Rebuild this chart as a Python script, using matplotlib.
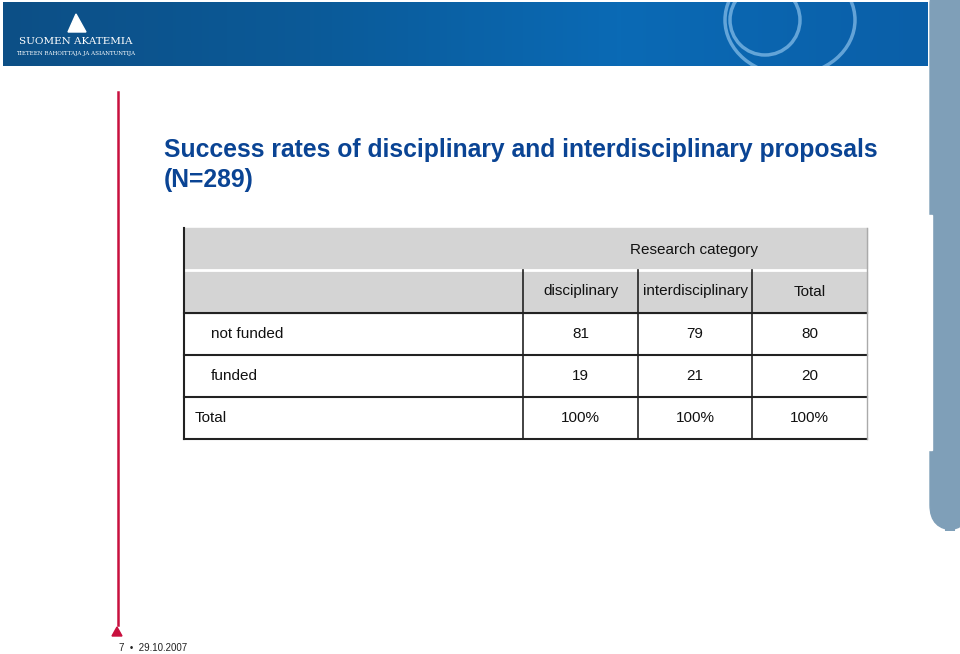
import matplotlib
matplotlib.use("Agg")
import matplotlib.pyplot as plt
from matplotlib.patches import Rectangle, FancyBboxPatch, Polygon, Ellipse
from matplotlib.colors import LinearSegmentedColormap
import numpy as np

title = "Success rates of disciplinary and interdisciplinary proposals\n(N=289)"
group_header = "Research category"
col_labels = ["disciplinary", "interdisciplinary", "Total"]
row_labels = ["not funded", "funded", "Total"]
values = [["81", "79", "80"], ["19", "21", "20"], ["100%", "100%", "100%"]]
footer = "7  •  29.10.2007"

fig = plt.figure(figsize=(9.6, 6.54), dpi=100)
ax = fig.add_axes([0, 0, 1, 1])
ax.set_xlim(0, 960); ax.set_ylim(654, 0); ax.axis("off")

grad = np.linspace(0, 1, 256)[None, :]
cm = LinearSegmentedColormap.from_list("b", ["#0d4f86", "#0b5a98", "#0a6ab5", "#0a5fa8"])
ax.imshow(grad, extent=(3, 928, 66, 2), cmap=cm, aspect="auto", zorder=1)
banner = Rectangle((3, 2), 925, 64, transform=ax.transData, fill=False, lw=0)
ax.add_patch(banner)
for cx, w, h in [(765, 70, 70), (790, 130, 110)]:
    e = Ellipse((cx, 20), w, h, fill=False, ec="#9fd0f5", lw=2.5, alpha=0.6, zorder=2)
    ax.add_patch(e); e.set_clip_path(banner)
ax.add_patch(Polygon([(76, 14), (68, 32), (86, 32)], color="white", zorder=3))
ax.text(76, 42, "SUOMEN AKATEMIA", color="white", ha="center", va="center", fontsize=7.5, family="DejaVu Serif", zorder=3)
ax.text(76, 54, "TIETEEN RAHOITTAJA JA ASIANTUNTIJA", color="white", ha="center", va="center", fontsize=4, family="DejaVu Serif", zorder=3)
ax.add_patch(FancyBboxPatch((930, -20), 40, 550, boxstyle="round,pad=0,rounding_size=25", color="#7f9fb8", zorder=1))
ax.add_patch(Rectangle((926, 215), 6, 235, color="white", zorder=2))

ax.plot([118, 118], [92, 625], color="#c8103e", lw=1.8)
ax.add_patch(Polygon([(117, 627), (112, 636), (122, 636)], color="#c8103e"))
ax.text(119, 648, footer, fontsize=7, va="center", ha="left", color="#222222", family="Liberation Sans")

ax.text(164, 165, title, fontsize=17.8, fontweight="bold", color="#0a4494", va="center", ha="left",
        linespacing=1.3, family="Liberation Sans")

xs = [184, 523, 638, 752, 867]
ys = [228, 270, 313, 355, 397, 439]
ax.add_patch(Rectangle((xs[0], ys[0]), xs[-1]-xs[0], ys[2]-ys[0], color="#d4d4d4", zorder=1))
lc = "#222222"
ax.plot([xs[0], xs[-1]], [ys[1], ys[1]], color="white", lw=2, zorder=3)
for y in ys[2:]:
    ax.plot([xs[0], xs[-1]], [y, y], color=lc, lw=1.5, zorder=3)
ax.plot([xs[0], xs[0]], [ys[0], ys[-1]], color=lc, lw=1.5, zorder=3)
for x in xs[1:4]:
    ax.plot([x, x], [ys[1], ys[-1]], color=lc, lw=1.2, zorder=3)
ax.plot([xs[-1], xs[-1]], [ys[0], ys[-1]], color="#aaaaaa", lw=1, zorder=3)

fn = dict(family="Liberation Sans", color="#111111", zorder=4, fontsize=11)
ax.text(694, 250, group_header, ha="center", va="center", **fn)
for i, lab in enumerate(col_labels):
    ax.text((xs[i+1]+xs[i+2])/2, (ys[1]+ys[2])/2, lab, ha="center", va="center", **fn)
for r, lab in enumerate(row_labels):
    yc = (ys[r+2]+ys[r+3])/2
    ax.text(211 if r < 2 else 195, yc, lab, ha="left", va="center", **fn)
    for c in range(3):
        ax.text((xs[c+1]+xs[c+2])/2, yc, values[r][c], ha="center", va="center", **fn)

fig.savefig("out.png", dpi=100)
